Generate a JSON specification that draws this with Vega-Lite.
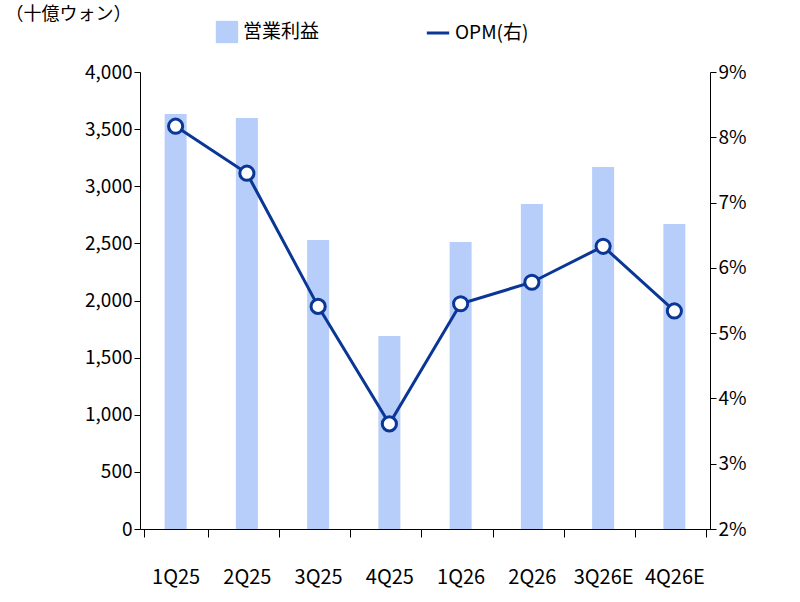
{
  "$schema": "https://vega.github.io/schema/vega-lite/v6.json",
  "width": 570,
  "height": 457,
  "padding": {"left": 5, "top": 5, "right": 5, "bottom": 5},
  "config": {
    "font": "Noto Sans CJK JP",
    "view": {"stroke": null},
    "axis": {"labelFontSize": 19, "labelColor": "#000", "domainColor": "#000", "tickColor": "#000", "grid": false, "titleFontWeight": "normal"},
    "legend": {"labelFontSize": 19, "orient": "none", "direction": "horizontal", "title": null, "labelColor": "#000"}
  },
  "data": {"values": [
    {"q": "1Q25", "op": 3632, "opm": 8.17},
    {"q": "2Q25", "op": 3597, "opm": 7.45},
    {"q": "3Q25", "op": 2530, "opm": 5.41},
    {"q": "4Q25", "op": 1689, "opm": 3.61},
    {"q": "1Q26", "op": 2512, "opm": 5.45},
    {"q": "2Q26", "op": 2845, "opm": 5.78},
    {"q": "3Q26E", "op": 3168, "opm": 6.33},
    {"q": "4Q26E", "op": 2670, "opm": 5.34}
  ]},
  "encoding": {
    "x": {"field": "q", "type": "nominal", "sort": null, "title": null,
      "axis": {"labelAngle": 0, "labelPadding": 30, "labelFontSize": 20, "tickBand": "extent", "tickSize": 8}}
  },
  "layer": [
    {
      "mark": {"type": "bar", "size": 22},
      "encoding": {
        "y": {"field": "op", "type": "quantitative", "scale": {"domain": [0, 4000]},
          "axis": {"values": [0,500,1000,1500,2000,2500,3000,3500,4000], "format": ",.0f", "tickSize": 6,
            "title": "（十億ウォン）", "titleAngle": 0, "titleAlign": "left", "titleBaseline": "middle", "titleX": -135, "titleY": -58, "titleFontSize": 18}},
        "color": {"datum": "営業利益", "type": "nominal",
          "scale": {"domain": ["営業利益"], "range": ["#b7cdfa"]},
          "legend": {"symbolType": "square", "symbolSize": 500, "legendX": 75, "legendY": -52}}
      }
    },
    {
      "mark": {"type": "line", "point": {"filled": true, "fill": "white", "size": 200, "strokeWidth": 3}, "strokeWidth": 3},
      "encoding": {
        "y": {"field": "opm", "type": "quantitative", "scale": {"domain": [2, 9]},
          "axis": {"orient": "right", "values": [2,3,4,5,6,7,8,9], "labelExpr": "datum.value + '%'", "tickSize": 6, "title": null}},
        "stroke": {"datum": "OPM(右)", "type": "nominal",
          "scale": {"domain": ["OPM(右)"], "range": ["#0a3796"]},
          "legend": {"symbolType": "stroke", "symbolStrokeWidth": 3, "symbolSize": 500, "legendX": 285, "legendY": -52}}
      }
    }
  ],
  "resolve": {"scale": {"y": "independent", "color": "independent"}}
}
